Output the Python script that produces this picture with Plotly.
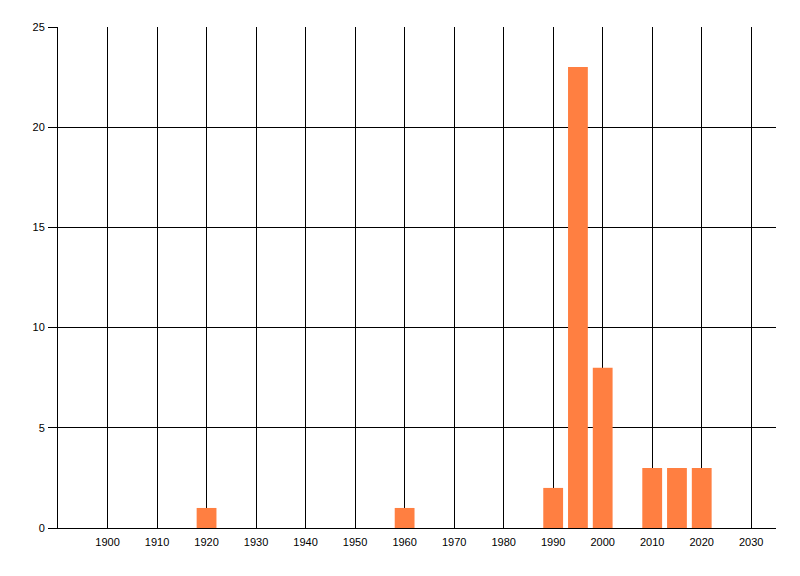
import plotly.graph_objects as go

years = [1920, 1960, 1990, 1995, 2000, 2010, 2015, 2020]
counts = [1, 1, 2, 23, 8, 3, 3, 3]
x_ticks = list(range(1900, 2031, 10))
y_ticks = [0, 5, 10, 15, 20, 25]

fig = go.Figure(go.Bar(
    x=years, y=counts, width=4,
    marker=dict(color="#FF7F41", line=dict(width=0)),
))

fig.update_layout(
    width=800, height=576,
    margin=dict(l=50, r=32, t=19, b=56),
    paper_bgcolor="white", plot_bgcolor="white",
    font=dict(family="Liberation Sans", size=11, color="black"),
    showlegend=False,
    xaxis=dict(
        range=[1890, 2035], tickvals=x_ticks, ticktext=[str(v) for v in x_ticks],
        showgrid=True, gridcolor="black", gridwidth=1,
        showline=True, linecolor="black", linewidth=1,
        ticks="", zeroline=False, ticklabelstandoff=4,
    ),
    yaxis=dict(
        range=[0, 25], tickvals=y_ticks,
        showgrid=True, gridcolor="black", gridwidth=1,
        showline=True, linecolor="black", linewidth=1,
        ticks="outside", ticklen=9, tickcolor="black", tickwidth=1,
        zeroline=False, ticklabelstandoff=1,
    ),
)

fig.write_html("out.html")
